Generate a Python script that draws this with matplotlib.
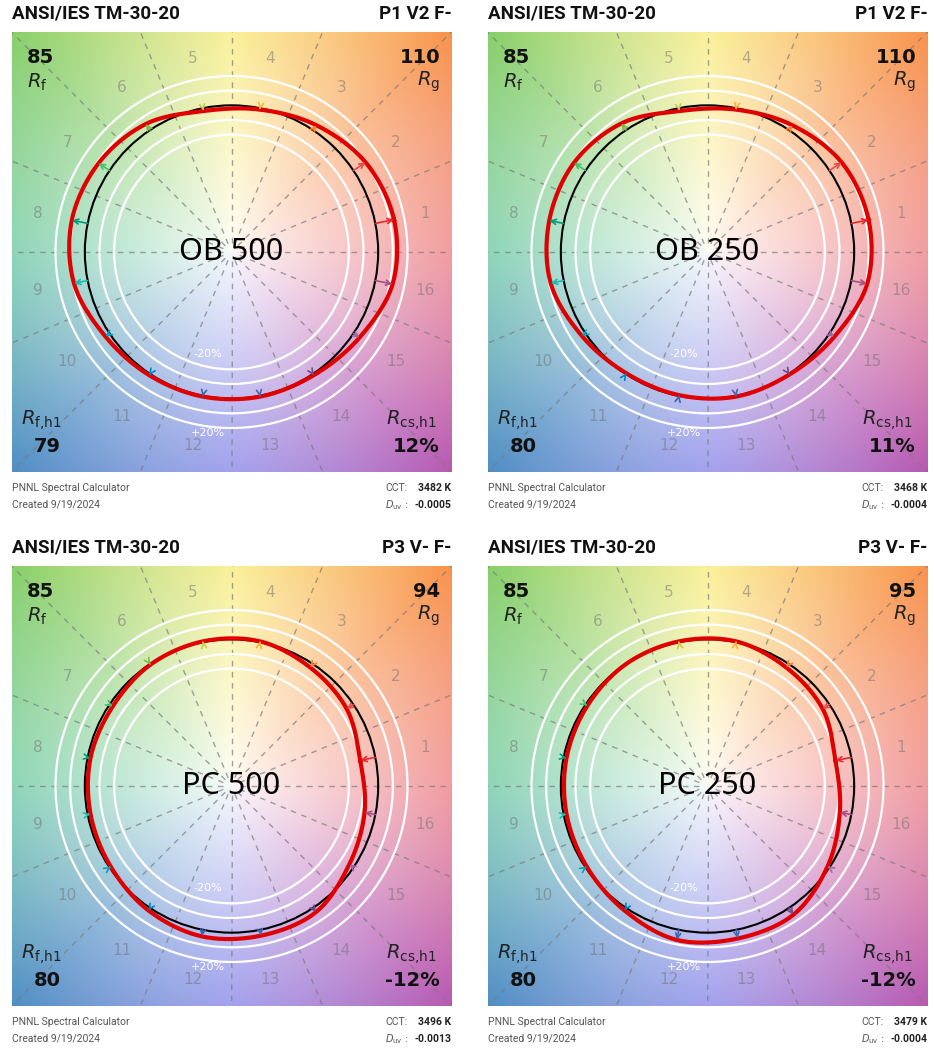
import numpy as np
import matplotlib
matplotlib.use('Agg')
import matplotlib.pyplot as plt
from matplotlib.colors import to_rgb
from matplotlib.patches import Circle, FancyArrowPatch

plt.rcParams['mathtext.fontset'] = 'dejavusans'

# panel info
names = ['OB 500', 'OB 250', 'PC 500', 'PC 250']
codes = ['P1 V2 F-', 'P1 V2 F-', 'P3 V- F-', 'P3 V- F-']
rf = [85, 85, 85, 85]
rg = [110, 110, 94, 95]
rf_h1 = [79, 80, 80, 80]
rcs_h1 = ['12%', '11%', '-12%', '-12%']
cct = ['3482 K', '3468 K', '3496 K', '3479 K']
duv = ['-0.0005', '-0.0004', '-0.0013', '-0.0004']

# relative chroma of the test source in hue bins 1..16 (reference = 1)
chroma_ob500 = [1.13, 1.10, 1.04, 0.99, 0.98, 1.05, 1.09, 1.11, 1.095, 1.035, 1.01, 1.005, 1.005, 1.01, 1.05, 1.12]
chroma_ob250 = [1.12, 1.10, 1.04, 0.99, 0.98, 1.055, 1.095, 1.10, 1.09, 1.03, 0.995, 0.995, 1.005, 1.005, 1.04, 1.11]
chroma_pc500 = [0.895, 0.945, 0.97, 1.005, 1.005, 0.995, 0.975, 0.98, 0.98, 0.99, 1.02, 1.045, 1.04, 1.035, 0.965, 0.925]
chroma_pc250 = [0.89, 0.945, 0.97, 1.005, 1.005, 1.0, 0.985, 0.98, 0.98, 0.99, 1.02, 1.07, 1.06, 1.055, 0.985, 0.92]
chroma_all = [chroma_ob500, chroma_ob250, chroma_pc500, chroma_pc250]

bin_labels = [str(i) for i in range(1, 17)]
bin_colors = ['#E62828', '#E74B4B', '#FB812E', '#FFB529', '#CBCA46', '#7EB94C', '#41C06D', '#009C7C',
              '#16BCB0', '#00A4BF', '#0085C3', '#3B62AA', '#4568AE', '#6A4E85', '#9D69A1', '#A74F81']

# background hue wheel (angle in degrees -> colour)
bg_angles = [0, 45, 90, 135, 180, 225, 270, 315, 360]
bg_colors = ['#EC7379', '#F88F45', '#F9EA6D', '#84CD65', '#5EC39A', '#4A8AC2', '#7B79E6', '#B553AF', '#EC7379']

LIM = 1.5
W, H = 934, 1051
centers = [(231.5, 252), (707.5, 252), (231.5, 786), (707.5, 786)]
HALF = 220


def background(n=400):
    g = np.linspace(-LIM, LIM, n)
    X, Y = np.meshgrid(g, g)
    ang = np.degrees(np.arctan2(Y, X)) % 360
    rr = np.hypot(X, Y)
    cols = np.array([to_rgb(c) for c in bg_colors])
    img = np.zeros((n, n, 3))
    for ch in range(3):
        img[..., ch] = np.interp(ang, bg_angles, cols[:, ch])
    s = np.clip(0.06 + 0.94 * rr / 2.2, 0, 1)[..., None]
    return (1 - s) * 1.0 + s * img


def closed_spline(px, py, steps=30):
    # periodic Catmull-Rom through the bin points
    n = len(px)
    out_x, out_y = [], []
    t = np.linspace(0, 1, steps, endpoint=False)
    for i in range(n):
        p0 = np.array([px[(i - 1) % n], py[(i - 1) % n]])
        p1 = np.array([px[i], py[i]])
        p2 = np.array([px[(i + 1) % n], py[(i + 1) % n]])
        p3 = np.array([px[(i + 2) % n], py[(i + 2) % n]])
        for tt in t:
            pt = 0.5 * ((2 * p1) + (-p0 + p2) * tt + (2 * p0 - 5 * p1 + 4 * p2 - p3) * tt ** 2
                        + (-p0 + 3 * p1 - 3 * p2 + p3) * tt ** 3)
            out_x.append(pt[0])
            out_y.append(pt[1])
    out_x.append(out_x[0])
    out_y.append(out_y[0])
    return out_x, out_y


fig = plt.figure(figsize=(W / 100, H / 100), dpi=100)
bg = background()
theta = np.radians(11.25 + 22.5 * np.arange(16))

for k in range(4):
    cx, cy = centers[k]
    ax = fig.add_axes([(cx - HALF) / W, 1 - (cy + HALF) / H, 2 * HALF / W, 2 * HALF / H])
    ax.imshow(bg, extent=[-LIM, LIM, -LIM, LIM], origin='lower', interpolation='bilinear', zorder=0)
    ax.set_xlim(-LIM, LIM)
    ax.set_ylim(-LIM, LIM)
    ax.set_aspect('equal')
    ax.axis('off')

    # bin boundaries
    for a in np.radians(np.arange(0, 360, 22.5)):
        ax.plot([0.06 * np.cos(a), 3 * np.cos(a)], [0.06 * np.sin(a), 3 * np.sin(a)], color='#7a7a7a',
                lw=1, alpha=0.7, dashes=(4, 4), zorder=1)

    # +-10 / 20 % circles
    for r in [0.8, 0.9, 1.1, 1.2]:
        ax.add_patch(Circle((0, 0), r, fill=False, ec='white', lw=1.6, zorder=2))

    for i, lab in enumerate(bin_labels):
        ax.text(1.347 * np.cos(theta[i]), 1.347 * np.sin(theta[i]), lab, ha='center', va='center',
                fontsize=11, color='#6e6e6e', alpha=0.5, zorder=2)

    ax.text(-0.16, -0.694, '-20%', ha='center', va='center', fontsize=8, color='white', zorder=2)
    ax.text(-0.16, -1.231, '+20%', ha='center', va='center', fontsize=8, color='white', zorder=2)

    # reference circle
    ax.add_patch(Circle((0, 0), 1.0, fill=False, ec='black', lw=1.5, zorder=3))

    # test source
    ch = np.array(chroma_all[k])
    tx = ch * np.cos(theta)
    ty = ch * np.sin(theta)
    sx, sy = closed_spline(tx, ty)
    ax.plot(sx, sy, color='#E00000', lw=3, zorder=4)

    for i in range(16):
        arr = FancyArrowPatch((np.cos(theta[i]), np.sin(theta[i])), (tx[i], ty[i]),
                              arrowstyle='->', mutation_scale=9, color=bin_colors[i], lw=1.2,
                              shrinkA=0, shrinkB=0, zorder=5)
        ax.add_patch(arr)

    ax.text(0, 0, names[k], ha='center', va='center', fontsize=22, family='Noto Sans', color='black', zorder=6)

    # corner values
    ax.text(0.035, 0.943, str(rf[k]), transform=ax.transAxes, ha='left', va='center',
            fontsize=14, fontweight='bold', color='#111111')
    ax.text(0.035, 0.886, r'$R_\mathrm{f}$', transform=ax.transAxes, ha='left', va='center',
            fontsize=14, color='#222222')
    ax.text(0.974, 0.943, str(rg[k]), transform=ax.transAxes, ha='right', va='center',
            fontsize=14, fontweight='bold', color='#111111')
    ax.text(0.974, 0.886, r'$R_\mathrm{g}$', transform=ax.transAxes, ha='right', va='center',
            fontsize=14, color='#222222')
    ax.text(0.022, 0.118, r'$R_\mathrm{f{,}h1}$', transform=ax.transAxes, ha='left', va='center',
            fontsize=14, color='#222222')
    ax.text(0.05, 0.057, str(rf_h1[k]), transform=ax.transAxes, ha='left', va='center',
            fontsize=14, fontweight='bold', color='#111111')
    ax.text(0.967, 0.118, r'$R_\mathrm{cs{,}h1}$', transform=ax.transAxes, ha='right', va='center',
            fontsize=14, color='#222222')
    ax.text(0.974, 0.057, rcs_h1[k], transform=ax.transAxes, ha='right', va='center',
            fontsize=14, fontweight='bold', color='#111111')

    # header / footer
    ax.text(0.0, 1.041, 'ANSI/IES TM-30-20', transform=ax.transAxes, ha='left', va='center',
            fontsize=13.5, fontweight='bold', family='Roboto', color='#111111')
    ax.text(1.0, 1.041, codes[k], transform=ax.transAxes, ha='right', va='center',
            fontsize=13.5, fontweight='bold', family='Roboto', color='#111111')
    ax.text(0.0, -0.036, 'PNNL Spectral Calculator', transform=ax.transAxes, ha='left', va='center',
            fontsize=7.5, family='Roboto', color='#555555')
    ax.text(0.0, -0.075, 'Created 9/19/2024', transform=ax.transAxes, ha='left', va='center',
            fontsize=7.5, family='Roboto', color='#555555')
    ax.text(0.849, -0.036, 'CCT:', transform=ax.transAxes, ha='left', va='center',
            fontsize=7.5, family='Roboto', color='#555555')
    ax.text(1.0, -0.036, cct[k], transform=ax.transAxes, ha='right', va='center',
            fontsize=7.5, fontweight='bold', family='Roboto', color='#222222')
    ax.text(0.849, -0.075, r'$D_\mathrm{uv}$ :', transform=ax.transAxes, ha='left', va='center',
            fontsize=7, color='#555555')
    ax.text(1.0, -0.075, duv[k], transform=ax.transAxes, ha='right', va='center',
            fontsize=7.5, fontweight='bold', family='Roboto', color='#222222')

fig.savefig('out.png', dpi=100, facecolor='white')
